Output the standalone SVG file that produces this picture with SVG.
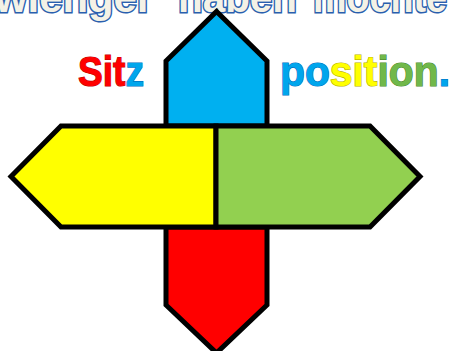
<svg xmlns="http://www.w3.org/2000/svg" width="452" height="351" viewBox="0 0 452 351">
<style>
.shape{stroke:#000;stroke-width:5;stroke-linejoin:miter}
.title{font-family:"Liberation Sans",Arial,sans-serif;font-weight:bold;font-size:43px;fill:#f4f2e6;stroke:#2a5fae;stroke-width:3;paint-order:stroke}
.big{font-family:"Liberation Sans",Arial,sans-serif;font-weight:bold;font-size:42px;stroke-width:1.2;paint-order:stroke}
.r{fill:#ff0000;stroke:#c00000}
.b{fill:#00a6ec;stroke:#0070c0}
.y{fill:#ffff00;stroke:#b8b000}
.g{fill:#70b84a;stroke:#4e8a30}
.k{fill:#00a6ec;stroke:#0070c0}
</style>
<rect width="452" height="351" fill="#ffffff"/>
<g id="title-text">
<text class="title" x="-5" y="12" textLength="158" lengthAdjust="spacingAndGlyphs">wienger</text>
<text class="title" x="178" y="12" textLength="119" lengthAdjust="spacingAndGlyphs">haben</text>
<text class="title" x="313" y="12" textLength="134" lengthAdjust="spacingAndGlyphs">möchte</text>
</g>
<g id="node-up"><path class="shape" fill="#00b0f0" d="M166,126 L166,61 L216.5,11.5 L267,61 L267,126 Z"/></g>
<g id="node-down"><path class="shape" fill="#ff0000" d="M166,227 L166,305 L216.5,353 L267,305 L267,227 Z"/></g>
<g id="node-left"><path class="shape" fill="#ffff00" d="M216,126 L61,126 L11,176.5 L61,227 L216,227 Z"/></g>
<g id="node-right"><path class="shape" fill="#92d050" d="M216,126 L370,126 L420,176.5 L370,227 L216,227 Z"/></g>
<g id="connectors"></g>
<g id="label-sitz">
<text class="big" x="78" y="86" textLength="66" lengthAdjust="spacingAndGlyphs"><tspan class="r">Sit</tspan><tspan class="b">z</tspan></text>
</g>
<g id="label-position">
<text class="big" x="280" y="86" textLength="170" lengthAdjust="spacingAndGlyphs"><tspan class="b">po</tspan><tspan class="y">sit</tspan><tspan class="g">ion</tspan><tspan class="k">.</tspan></text>
</g>
</svg>
